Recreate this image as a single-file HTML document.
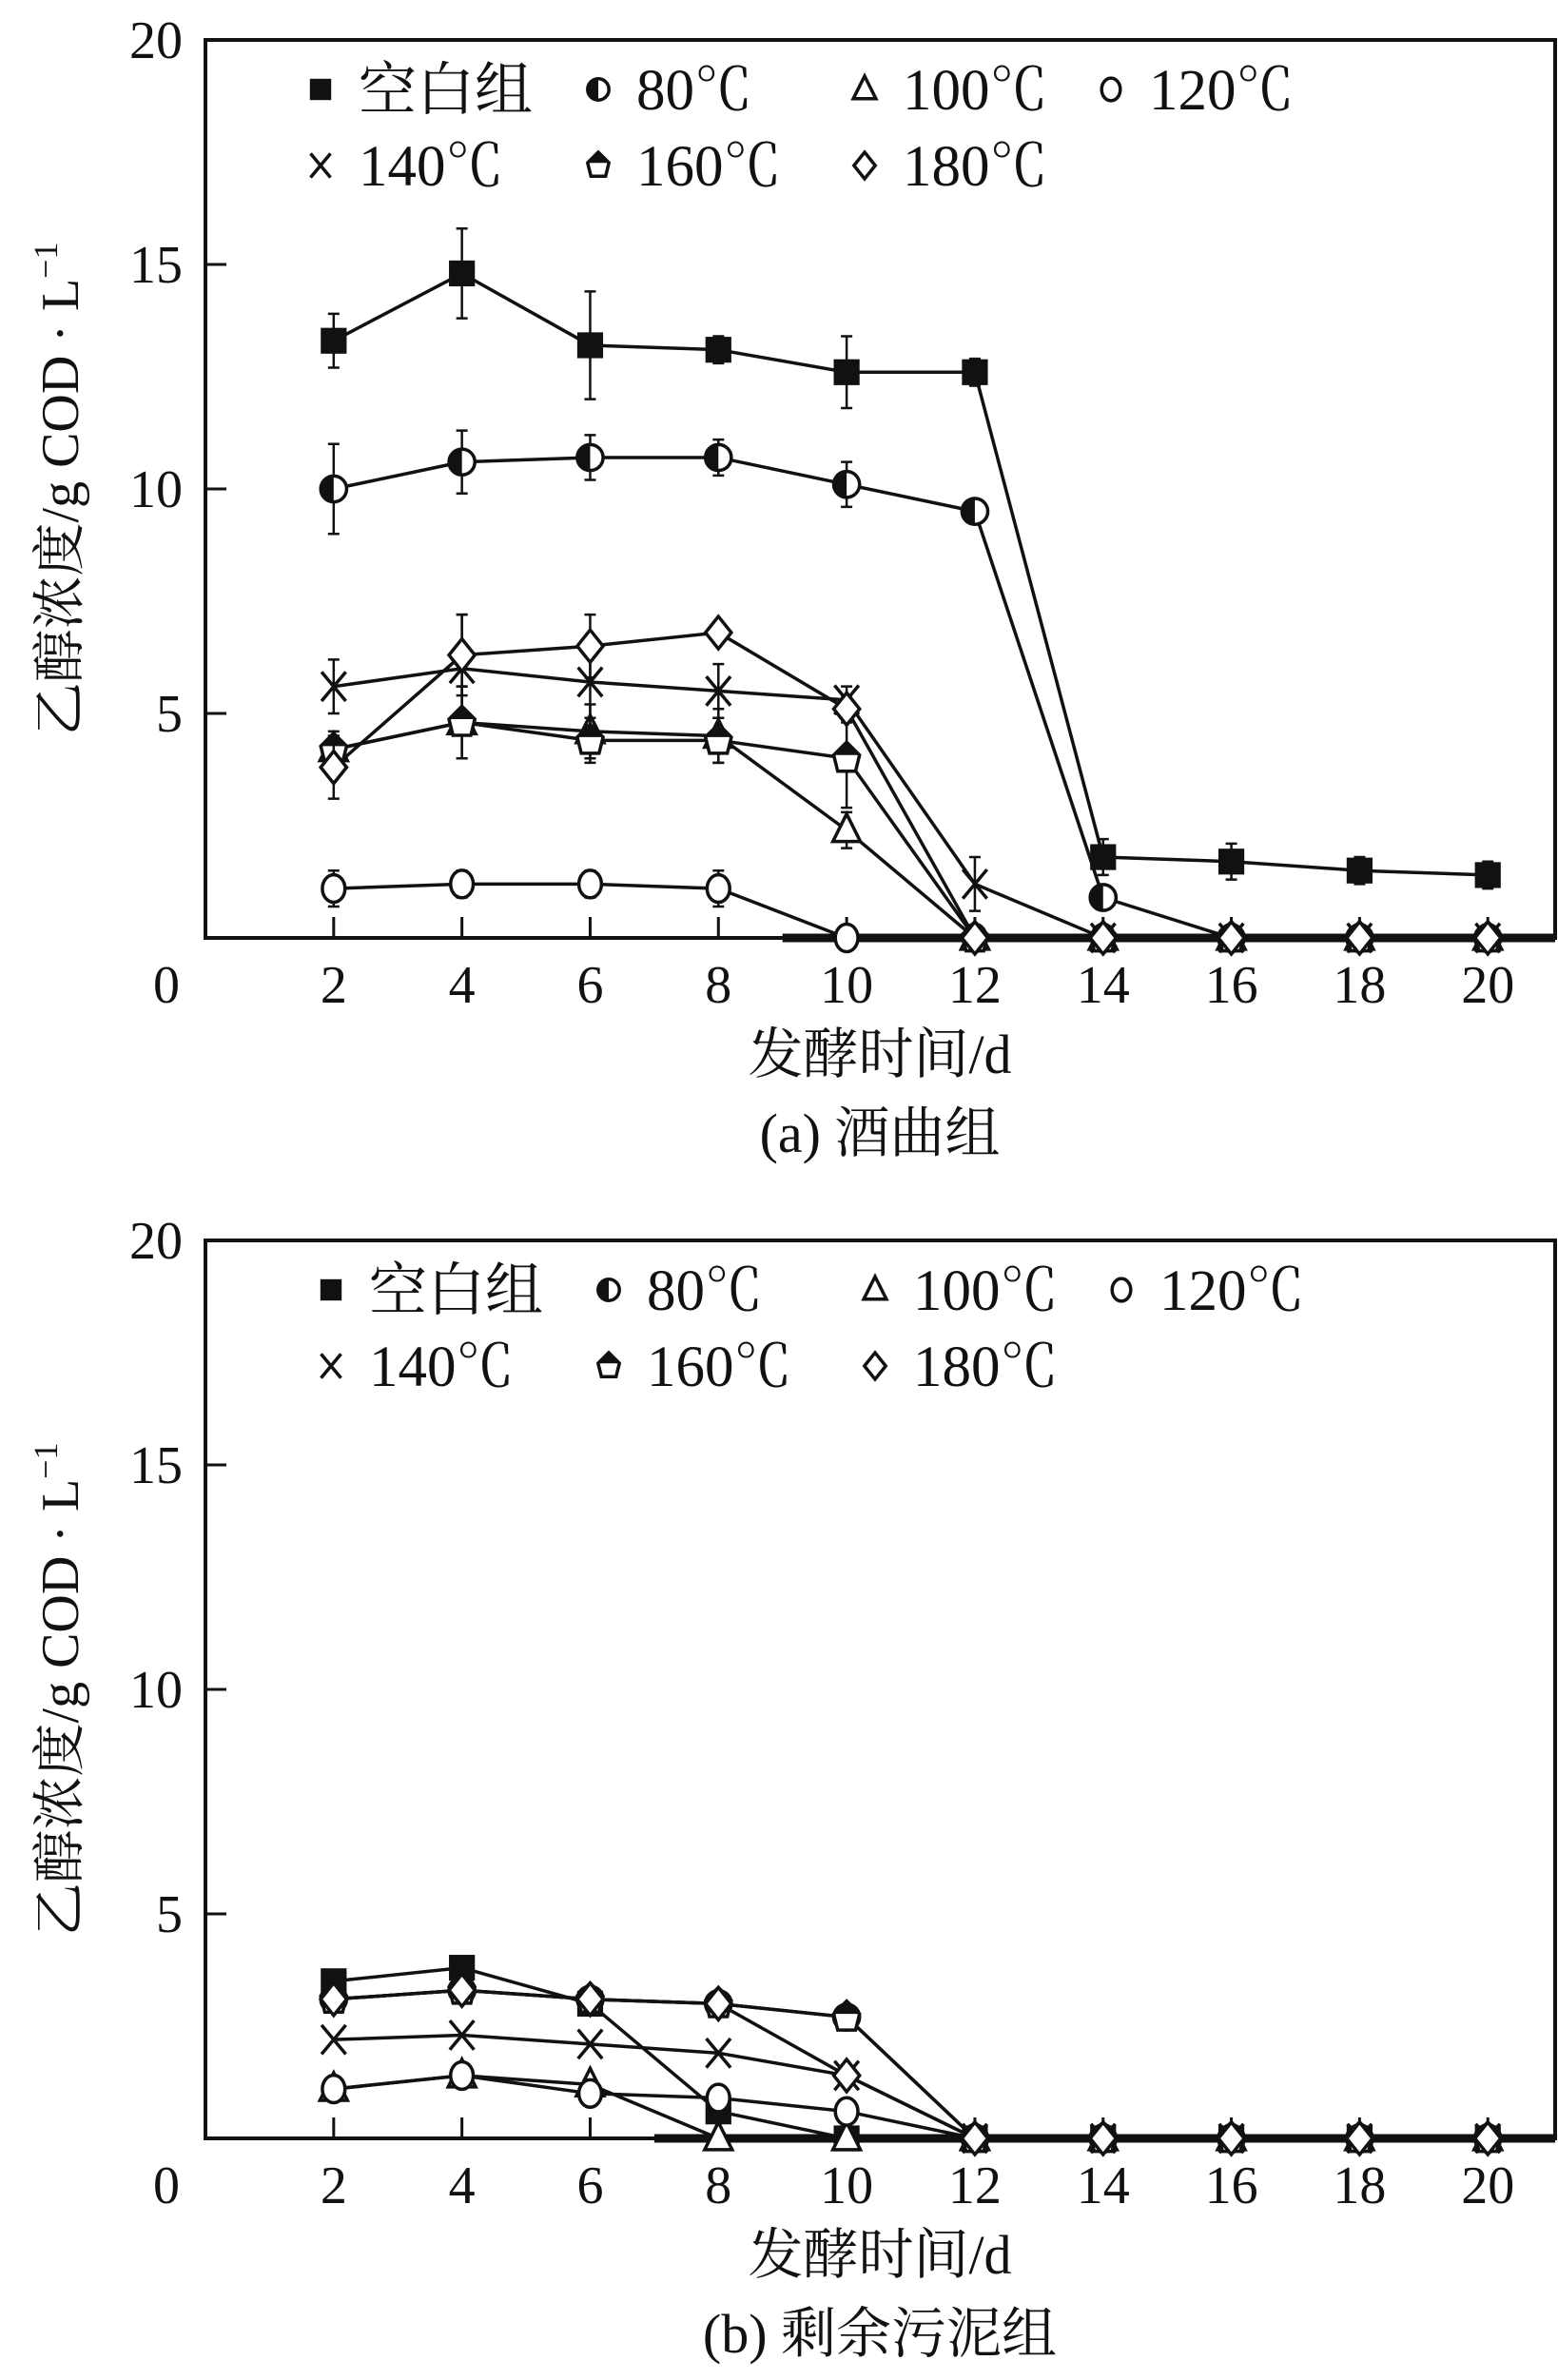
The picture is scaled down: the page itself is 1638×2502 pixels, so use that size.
<!DOCTYPE html>
<html><head><meta charset="utf-8"><style>
html,body{margin:0;padding:0;background:#fff;}
svg text{font-family:"Liberation Serif","Noto Serif CJK SC",serif;fill:#111;}
</style></head><body>
<svg id="chart" width="1638" height="2497" viewBox="0 0 1638 2497" xmlns="http://www.w3.org/2000/svg"></svg>
<script>
const days=[2,4,6,8,10,12,14,16,18,20];
const xTicks=[0,2,4,6,8,10,12,14,16,18,20];
const yTicks=[0,5,10,15,20];
const seriesNames=["空白组","80℃","100℃","120℃","140℃","160℃","180℃"];
const seriesKeys=["blank","t80","t100","t120","t140","t160","t180"];
// panel (a)
const aBlank=[13.3,14.8,13.2,13.1,12.6,12.6,1.8,1.7,1.5,1.4];
const aT80=[10.0,10.6,10.7,10.7,10.1,9.5,0.9,0,0,0];
const aT100=[4.2,4.8,4.6,4.5,2.4,0,0,0,0,0];
const aT120=[1.1,1.2,1.2,1.1,0,0,0,0,0,0];
const aT140=[5.6,6.0,5.7,5.5,5.3,1.2,0,0,0,0];
const aT160=[4.2,4.8,4.4,4.4,4.0,0,0,0,0,0];
const aT180=[3.8,6.3,6.5,6.8,5.1,0,0,0,0,0];
const aErrBlank=[0.6,1.0,1.2,0.3,0.8,0.3,0.4,0.4,0.3,0.3];
const aErrT80=[1.0,0.7,0.5,0.4,0.5,0.1,0.1,0,0,0];
const aErrT100=[0.4,0.8,0.6,0.6,0.4,0,0,0,0,0];
const aErrT120=[0.4,0.3,0.3,0.4,0,0,0,0,0,0];
const aErrT140=[0.6,1.2,1.0,0.6,0.3,0.6,0,0,0,0];
const aErrT160=[0.3,0.8,0.5,0.5,1.1,0,0,0,0,0];
const aErrT180=[0.7,0.9,0.7,0.2,0.3,0,0,0,0,0];
// panel (b)
const bBlank=[3.5,3.8,3.0,0.6,0,0,0,0,0,0];
const bT80=[3.1,3.3,3.1,3.0,2.7,0,0,0,0,0];
const bT100=[1.1,1.4,1.2,0,0,0,0,0,0,0];
const bT120=[1.1,1.4,1.0,0.9,0.6,0,0,0,0,0];
const bT140=[2.2,2.3,2.1,1.9,1.4,0,0,0,0,0];
const bT160=[3.1,3.3,3.1,3.0,2.7,0,0,0,0,0];
const bT180=[3.1,3.3,3.1,3.0,1.4,0,0,0,0,0];

const NS="http://www.w3.org/2000/svg";
const svg=document.getElementById('chart');
function mk(tag,attrs,parent){const e=document.createElementNS(NS,tag);for(const k in attrs)e.setAttribute(k,attrs[k]);(parent||svg).appendChild(e);return e;}

const L=216,R=1635,X0=0,X1=21.05;
function xs(v){return L+(v-X0)/(X1-X0)*(R-L);}

function marker(g,key,cx,cy,r){
  const sw=3.5;
  if(key==="blank"){mk('rect',{x:cx-r*0.8,y:cy-r*0.8,width:r*1.6,height:r*1.6,fill:'#111'},g);}
  else if(key==="t80"){mk('circle',{cx:cx,cy:cy,r:r*0.8,fill:'#fff',stroke:'#111','stroke-width':sw},g);
    mk('path',{d:`M${cx},${cy-r*0.8} A${r*0.8},${r*0.8} 0 0 0 ${cx},${cy+r*0.8} Z`,fill:'#111'},g);}
  else if(key==="t100"){mk('polygon',{points:`${cx},${cy-r} ${cx-r*0.85},${cy+r*0.7} ${cx+r*0.85},${cy+r*0.7}`,fill:'#fff',stroke:'#111','stroke-width':sw},g);}
  else if(key==="t120"){mk('ellipse',{cx:cx,cy:cy,rx:r*0.7,ry:r*0.85,fill:'#fff',stroke:'#111','stroke-width':sw},g);}
  else if(key==="t140"){mk('path',{d:`M${cx-r*0.75},${cy-r*0.9}L${cx+r*0.75},${cy+r*0.9}M${cx+r*0.75},${cy-r*0.9}L${cx-r*0.75},${cy+r*0.9}`,stroke:'#111','stroke-width':sw,fill:'none'},g);}
  else if(key==="t160"){mk('polygon',{points:`${cx},${cy-r} ${cx+r*0.8},${cy-r*0.2} ${cx+r*0.55},${cy+r*0.8} ${cx-r*0.55},${cy+r*0.8} ${cx-r*0.8},${cy-r*0.2}`,fill:'#fff',stroke:'#111','stroke-width':sw},g);
    mk('polygon',{points:`${cx},${cy-r} ${cx+r*0.8},${cy-r*0.2} ${cx-r*0.8},${cy-r*0.2}`,fill:'#111'},g);}
  else if(key==="t180"){mk('polygon',{points:`${cx},${cy-r} ${cx+r*0.8},${cy} ${cx},${cy+r} ${cx-r*0.8},${cy}`,fill:'#fff',stroke:'#111','stroke-width':sw},g);}
}

function panel(id,T,B,series,errs,caption,legendDx,zeroFrom){
  const ys=v=>B-v/20*(B-T);
  const g=mk('g',{});
  
  
  const ax=mk('rect',{x:L,y:T,width:R-L,height:B-T,fill:'none',stroke:'#111','stroke-width':4},g);
  
  
  const zl=mk('line',{x1:xs(zeroFrom),x2:R,y1:B,y2:B,stroke:'#111','stroke-width':9},g);
  
  
  xTicks.forEach(t=>{
    if(t>0){const tk=mk('line',{x1:xs(t),x2:xs(t),y1:B,y2:B-22,stroke:'#111','stroke-width':3},g);
      
      }
    const tx=mk('text',{x:t===0?175:xs(t),y:B+68,'font-size':56,'text-anchor':'middle'},g);
    tx.textContent=t;
    
    
  });
  yTicks.forEach(t=>{
    if(t===0)return;
    const tk=mk('line',{x1:L,x2:L+22,y1:ys(t),y2:ys(t),stroke:'#111','stroke-width':3},g);
    
    
    const tx=mk('text',{x:192,y:ys(t)+19,'font-size':56,'text-anchor':'end'},g);
    tx.textContent=t;
    
    
  });
  const xt=mk('text',{x:925,y:B+142,'font-size':58,'text-anchor':'middle'},g);
  xt.textContent='发酵时间/d';
  
  
  const cp=mk('text',{x:925,y:B+225,'font-size':58,'text-anchor':'middle'},g);
  cp.textContent=caption;
  
  
  const cy=(T+B)/2;
  const yt=mk('text',{x:0,y:0,'font-size':56,'text-anchor':'middle',transform:`translate(82,${cy}) rotate(-90)`},g);
  yt.innerHTML='乙醇浓度/g COD · L<tspan dy="-22" font-size="36">−1</tspan>';
  
  
  series.forEach((vals,i)=>{
    const sg=mk('g',{},g);
    
    
    const pts=days.map((d,j)=>xs(d)+','+ys(vals[j])).join(' ');
    mk('polyline',{points:pts,fill:'none',stroke:'#111','stroke-width':3.5},sg);
    if(errs){days.forEach((d,j)=>{const e=errs[i][j];if(!e)return;
      const x=xs(d),y1=ys(vals[j]+e),y2=ys(vals[j]-e);
      mk('path',{d:`M${x},${y1}V${y2}M${x-6},${y1}H${x+6}M${x-6},${y2}H${x+6}`,stroke:'#111','stroke-width':2.5},sg);});}
    days.forEach((d,j)=>{marker(sg,seriesKeys[i],xs(d),ys(vals[j]),17);});
  });
  const lg=mk('g',{},g);
  
  
  const pos=[[337,0],[629,0],[909,0],[1168,0],[337,80],[629,80],[909,80]];
  seriesNames.forEach((n,i)=>{
    const px=pos[i][0]+legendDx, py=T+52+pos[i][1];
    const le=mk('g',{},lg);
    
    
    marker(le,seriesKeys[i],px,py,14);
    const tx=mk('text',{x:px+40,y:py+21,'font-size':61},le);
    tx.textContent=n;
  });
}
panel('a',42,986,[aBlank,aT80,aT100,aT120,aT140,aT160,aT180],[aErrBlank,aErrT80,aErrT100,aErrT120,aErrT140,aErrT160,aErrT180],'(a) 酒曲组',0,9);
panel('b',1304,2248,[bBlank,bT80,bT100,bT120,bT140,bT160,bT180],null,'(b) 剩余污泥组',11,7);
</script>
</body></html>
